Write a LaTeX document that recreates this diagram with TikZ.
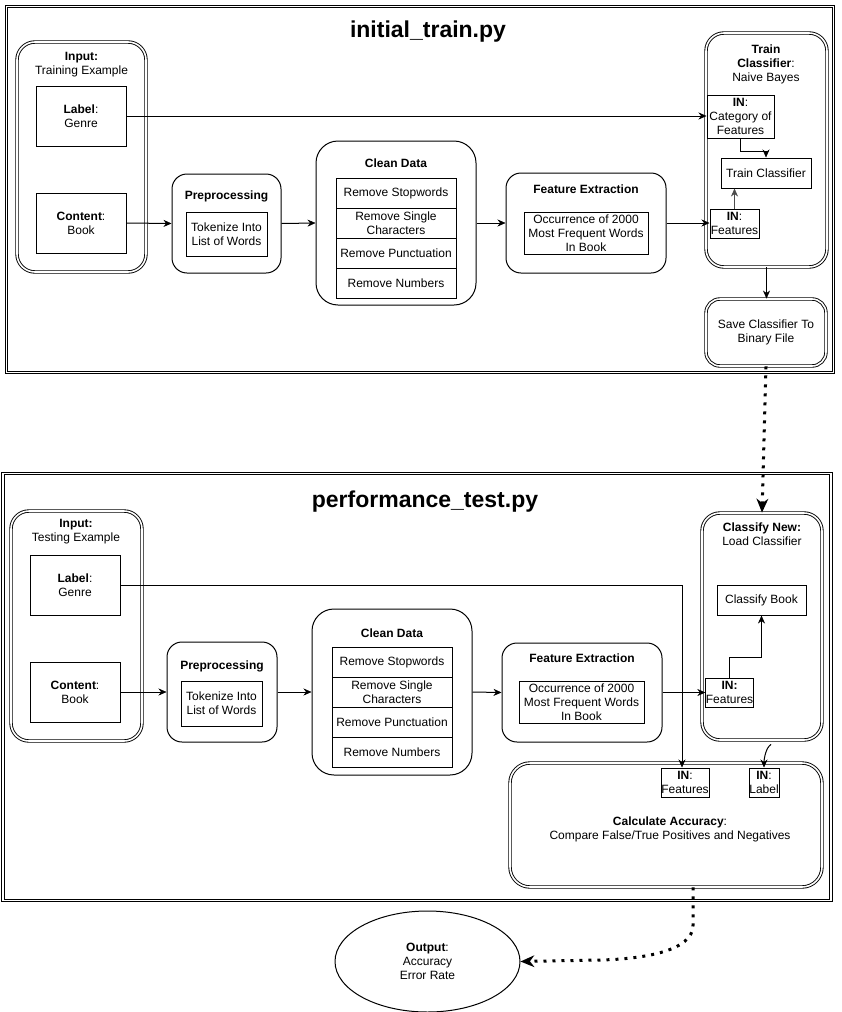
\documentclass[tikz,border=0pt]{standalone}
\usepackage{fontspec}
\setmainfont{Liberation Sans}
\usetikzlibrary{arrows.meta,shapes.geometric}
\newcommand\fsz{\fontsize{12}{14}\selectfont}
\newcommand\tfsz{\fontsize{23}{27}\selectfont\bfseries}
\begin{document}
\begin{tikzpicture}[x=1pt,y=-1pt,
  wh/.style 2 args={minimum width=#1, minimum height=#2},
  txt/.style={font=\fsz, align=center, inner sep=0pt},
  sqbox/.style={txt, draw, line width=1pt},
  rbox/.style={txt, draw, line width=1pt, rounded corners=#1},
  rbox/.default=15pt,
  dbox/.style={txt, draw, line width=0.9pt, double, double distance=1.6pt, rounded corners=#1},
  dbox/.default=18pt,
  frame/.style={draw, line width=0.9pt, double, double distance=1.6pt, inner sep=0pt},
  ttl/.style={font=\tfsz, inner sep=0pt},
  conn/.style={line width=1pt, -{Stealth[length=8pt,width=7pt,line width=0.5pt]}},
  dots/.style={line width=3pt, dash pattern=on 3pt off 6pt, -{Stealth[length=14pt,width=12pt,line width=0pt]}}
]
\useasboundingbox (0,0) rectangle (841,1012);

% ---------------- top frame ----------------
\node[frame, wh={827}{366}] (f1) at (420,189.5) {};
\node[ttl] (t1) at (428,31.5) {initial\_train.py};

\node[dbox, wh={129}{230}] (in1) at (81.5,157) {};
\node[txt] (in1t) at (81.5,64.5) {\textbf{Input:}\\Training Example};
\node[sqbox, wh={90}{60}] (lab1) at (81,116) {\textbf{Label}:\\Genre};
\node[sqbox, wh={90}{60}] (con1) at (81,223) {\textbf{Content}:\\Book};

\node[rbox, wh={109}{99}] (pre1) at (226.5,223.5) {};
\node[txt] (pre1t) at (226.5,196) {\textbf{Preprocessing}};
\node[sqbox, wh={81}{44}] (tok1) at (226.5,234) {Tokenize Into\\List of Words};

\node[rbox=22pt, wh={160}{164}] (cln1) at (396,223) {};
\node[txt] (cln1t) at (396,163) {\textbf{Clean Data}};
\node[sqbox, wh={120}{30}] (r11) at (396,193) {Remove Stopwords};
\node[sqbox, wh={120}{30}] (r12) at (396,223) {Remove Single\\Characters};
\node[sqbox, wh={120}{30}] (r13) at (396,253) {Remove Punctuation};
\node[sqbox, wh={120}{30}] (r14) at (396,283) {Remove Numbers};

\node[rbox, wh={160}{100}] (fe1) at (586,223) {};
\node[txt] (fe1t) at (586,189) {\textbf{Feature Extraction}};
\node[sqbox, wh={124}{42}] (occ1) at (586,233) {Occurrence of 2000\\Most Frequent Words\\In Book};

\node[dbox, wh={121}{234}] (tc1) at (766.5,150) {};
\node[txt] (tc1t) at (766,64) {\textbf{Train}\\\textbf{Classifier}:\\Naive Bayes};
\node[sqbox, wh={67}{43}] (cat1) at (740.5,116.5) {\textbf{IN}:\\Category of\\Features};
\node[sqbox, wh={90}{30}] (trn1) at (766,173) {Train Classifier};
\node[sqbox, wh={49}{29}] (inf1) at (734.5,223.5) {\textbf{IN}:\\Features};
\node[dbox=14pt, wh={120}{67}] (sav1) at (766,332.5) {Save Classifier To\\Binary File};

\draw[conn] (lab1.east) -- (lab1.east -| cat1.west);
\draw[conn] (con1.east) -- (pre1.west);
\draw[conn] (pre1.east) -- (cln1.west);
\draw[conn] (cln1.east) -- (fe1.west);
\draw[conn] (fe1.east) -- (fe1.east -| inf1.west);
\draw[conn] (cat1.south) -- ++(0,13) -| (trn1.north);
\draw[conn, draw=black!70, fill=black!70] (inf1.north) -- (inf1.north |- trn1.south);
\draw[conn] (tc1.south) -- (tc1.south |- sav1.north);

% ---------------- bottom frame ----------------
\node[frame, wh={828}{427}] (f2) at (417,687) {};
\node[ttl] (t2) at (425,501.5) {performance\_test.py};

\node[dbox, wh={131}{230}] (in2) at (76.5,626) {};
\node[txt] (in2t) at (76,532) {\textbf{Input:}\\Testing Example};
\node[sqbox, wh={90}{60}] (lab2) at (75,585) {\textbf{Label}:\\Genre};
\node[sqbox, wh={90}{60}] (con2) at (75,692) {\textbf{Content}:\\Book};

\node[rbox, wh={110}{100}] (pre2) at (222,692) {};
\node[txt] (pre2t) at (222,666) {\textbf{Preprocessing}};
\node[sqbox, wh={81}{45}] (tok2) at (221.5,703.5) {Tokenize Into\\List of Words};

\node[rbox=22pt, wh={160}{166}] (cln2) at (392,692) {};
\node[txt] (cln2t) at (392,633) {\textbf{Clean Data}};
\node[sqbox, wh={120}{30}] (r21) at (392,662) {Remove Stopwords};
\node[sqbox, wh={120}{30}] (r22) at (392,692) {Remove Single\\Characters};
\node[sqbox, wh={120}{30}] (r23) at (392,722) {Remove Punctuation};
\node[sqbox, wh={120}{30}] (r24) at (392,752) {Remove Numbers};

\node[rbox, wh={160}{99}] (fe2) at (582,692.5) {};
\node[txt] (fe2t) at (582,658) {\textbf{Feature Extraction}};
\node[sqbox, wh={125}{42}] (occ2) at (581.5,702) {Occurrence of 2000\\Most Frequent Words\\In Book};

\node[dbox, wh={120}{227}] (cn2) at (762,626.5) {};
\node[txt] (cn2t) at (762,534.5) {\textbf{Classify New:}\\Load Classifier};
\node[sqbox, wh={89}{30}] (cb2) at (761.5,600) {Classify Book};
\node[sqbox, wh={47}{29}] (inf2) at (729.5,692.5) {\textbf{IN:}\\Features};

\node[dbox=20pt, wh={312}{124}] (ca2) at (666,825) {};
\node[txt] (ca2t) at (670,829) {\textbf{Calculate Accuracy}:\\Compare False/True Positives and Negatives};
\node[sqbox, wh={48}{29}] (inf3) at (685,782.5) {\textbf{IN}:\\Features};
\node[sqbox, wh={30}{29}] (inl3) at (764,782.5) {\textbf{IN}:\\Label};

\node[txt, draw, line width=1pt, ellipse, wh={185}{101}] (out) at (427.5,961.5) {\textbf{Output}:\\Accuracy\\Error Rate};

\draw[conn] (con2.east) -- (pre2.west);
\draw[conn] (pre2.east) -- (cln2.west);
\draw[conn] (cln2.east) -- (fe2.west);
\draw[conn] (fe2.east) -- (fe2.east -| inf2.west);
\draw[conn] (inf2.north) -- ++(0,-20) -| (cb2.south);
\draw[conn] (lab2.east) -| ([xshift=-3pt]inf3.north);
\draw[conn] ([shift={(9,4)}]cn2.south) .. controls +(-5,3) and +(0,-9) .. (inl3.north);

% dotted connectors
\draw[dots] (sav1.south) -- (cn2.north);
\draw[dots] ([xshift=27pt]ca2.south) -- ++(0,38) .. controls +(0,25) and +(45,-1) .. (600,960) -- (out.east);
\end{tikzpicture}
\end{document}
